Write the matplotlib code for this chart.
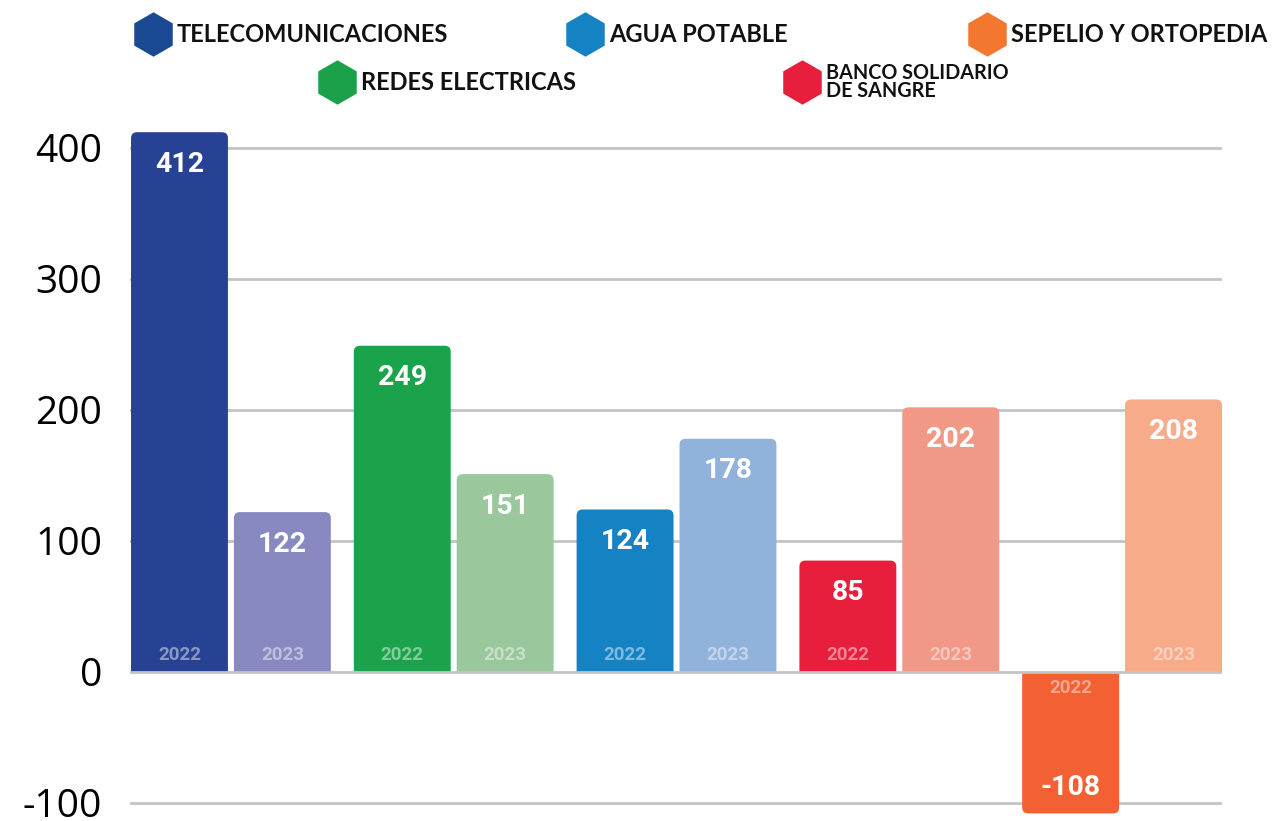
import matplotlib.pyplot as plt
import numpy as np
from matplotlib.patches import FancyBboxPatch, Rectangle

categories = ["TELECOMUNICACIONES", "REDES ELECTRICAS", "AGUA POTABLE",
              "BANCO SOLIDARIO\nDE SANGRE", "SEPELIO Y ORTOPEDIA"]
years = ["2022", "2023"]
values_2022 = [412, 249, 124, 85, -108]
values_2023 = [122, 151, 178, 202, 208]
y_ticks = [-100, 0, 100, 200, 300, 400]

legend_colors = ["#1a4a94", "#1aa14a", "#1582c3", "#e81f3c", "#f47730"]
colors_2022 = ["#274294", "#1ba34b", "#1582c3", "#e81f3c", "#f26033"]
colors_2023 = ["#8889c0", "#9ac79b", "#91b2db", "#f29886", "#f7ab89"]

fig = plt.figure(figsize=(12.79, 8.21), dpi=100)
ax = fig.add_axes([130 / 1279, 1 - 815 / 821, (1222 - 130) / 1279, (815 - 128) / 821])

group_step = 223 / 103
width = 97 / 103
ax.set_xlim(-width / 2 - 0.01, 4 * group_step + 1 + width / 2)
ax.set_ylim(-109.2, 415.2)

# one pixel in data units
px_x = (ax.get_xlim()[1] - ax.get_xlim()[0]) / 1092
px_y = (ax.get_ylim()[1] - ax.get_ylim()[0]) / 687
r = 6 * px_x
aspect = px_y / px_x


def rounded_bar(x, v, color):
    # rounded box that runs past the baseline, clipped at zero so the base stays square
    left = x - width / 2
    ext = 20 * px_y
    if v >= 0:
        y0, y1 = -ext, v
        clip = Rectangle((left - 1, 0), width + 2, v + 100, transform=ax.transData)
    else:
        y0, y1 = v, ext
        clip = Rectangle((left - 1, v - 100), width + 2, -v + 100, transform=ax.transData)
    p = FancyBboxPatch((left + r, y0 + r * aspect), width - 2 * r, y1 - y0 - 2 * r * aspect,
                       boxstyle="round,pad=%f" % r, mutation_aspect=aspect,
                       fc=color, ec="none", zorder=2)
    ax.add_patch(p)
    p.set_clip_path(clip)


for i in range(len(categories)):
    for j, (vals, cols) in enumerate([(values_2022, colors_2022), (values_2023, colors_2023)]):
        x = i * group_step + j
        v = vals[i]
        rounded_bar(x, v, cols[i])
        if v >= 0:
            ax.text(x, v - 32 * px_y, str(v), ha="center", va="center", color="white",
                    fontsize=20.5, fontweight="bold", family="Roboto", zorder=4)
            ax.text(x, 17 * px_y, years[j], ha="center", va="center", color="white",
                    alpha=0.45, fontsize=13.5, fontweight="bold", family="Roboto", zorder=4)
        else:
            ax.text(x, v + 26 * px_y, str(v), ha="center", va="center", color="white",
                    fontsize=20.5, fontweight="bold", family="Roboto", zorder=4)
            ax.text(x, -16 * px_y, years[j], ha="center", va="center", color="white",
                    alpha=0.45, fontsize=13.5, fontweight="bold", family="Roboto", zorder=4)

for t in y_ticks:
    ax.axhline(t, color="#c4c4c4", lw=2, zorder=1 if t != 0 else 3)

ax.set_yticks(y_ticks)
ax.set_yticklabels([str(t) for t in y_ticks], fontsize=28, family="Open Sans")
ax.tick_params(axis="y", length=0, pad=20)
ax.set_xticks([])
for s in ax.spines.values():
    s.set_visible(False)

# legend with hexagon markers
legend_pos = [(153, 34), (337, 82), (585, 34), (802, 82), (987, 34)]
for (px, py), name, col in zip(legend_pos, categories, legend_colors):
    fig.lines.append(plt.Line2D([px / 1279], [1 - py / 821], marker="h", markersize=32,
                                color=col, mec="none", transform=fig.transFigure))
    fs = 17 if "\n" not in name else 14.2
    fig.text((px + 24) / 1279, 1 - py / 821, name, ha="left", va="center", fontsize=fs,
             fontweight="bold", family="Lato", color="#111111", linespacing=0.85)

fig.savefig("out.png", dpi=100)
